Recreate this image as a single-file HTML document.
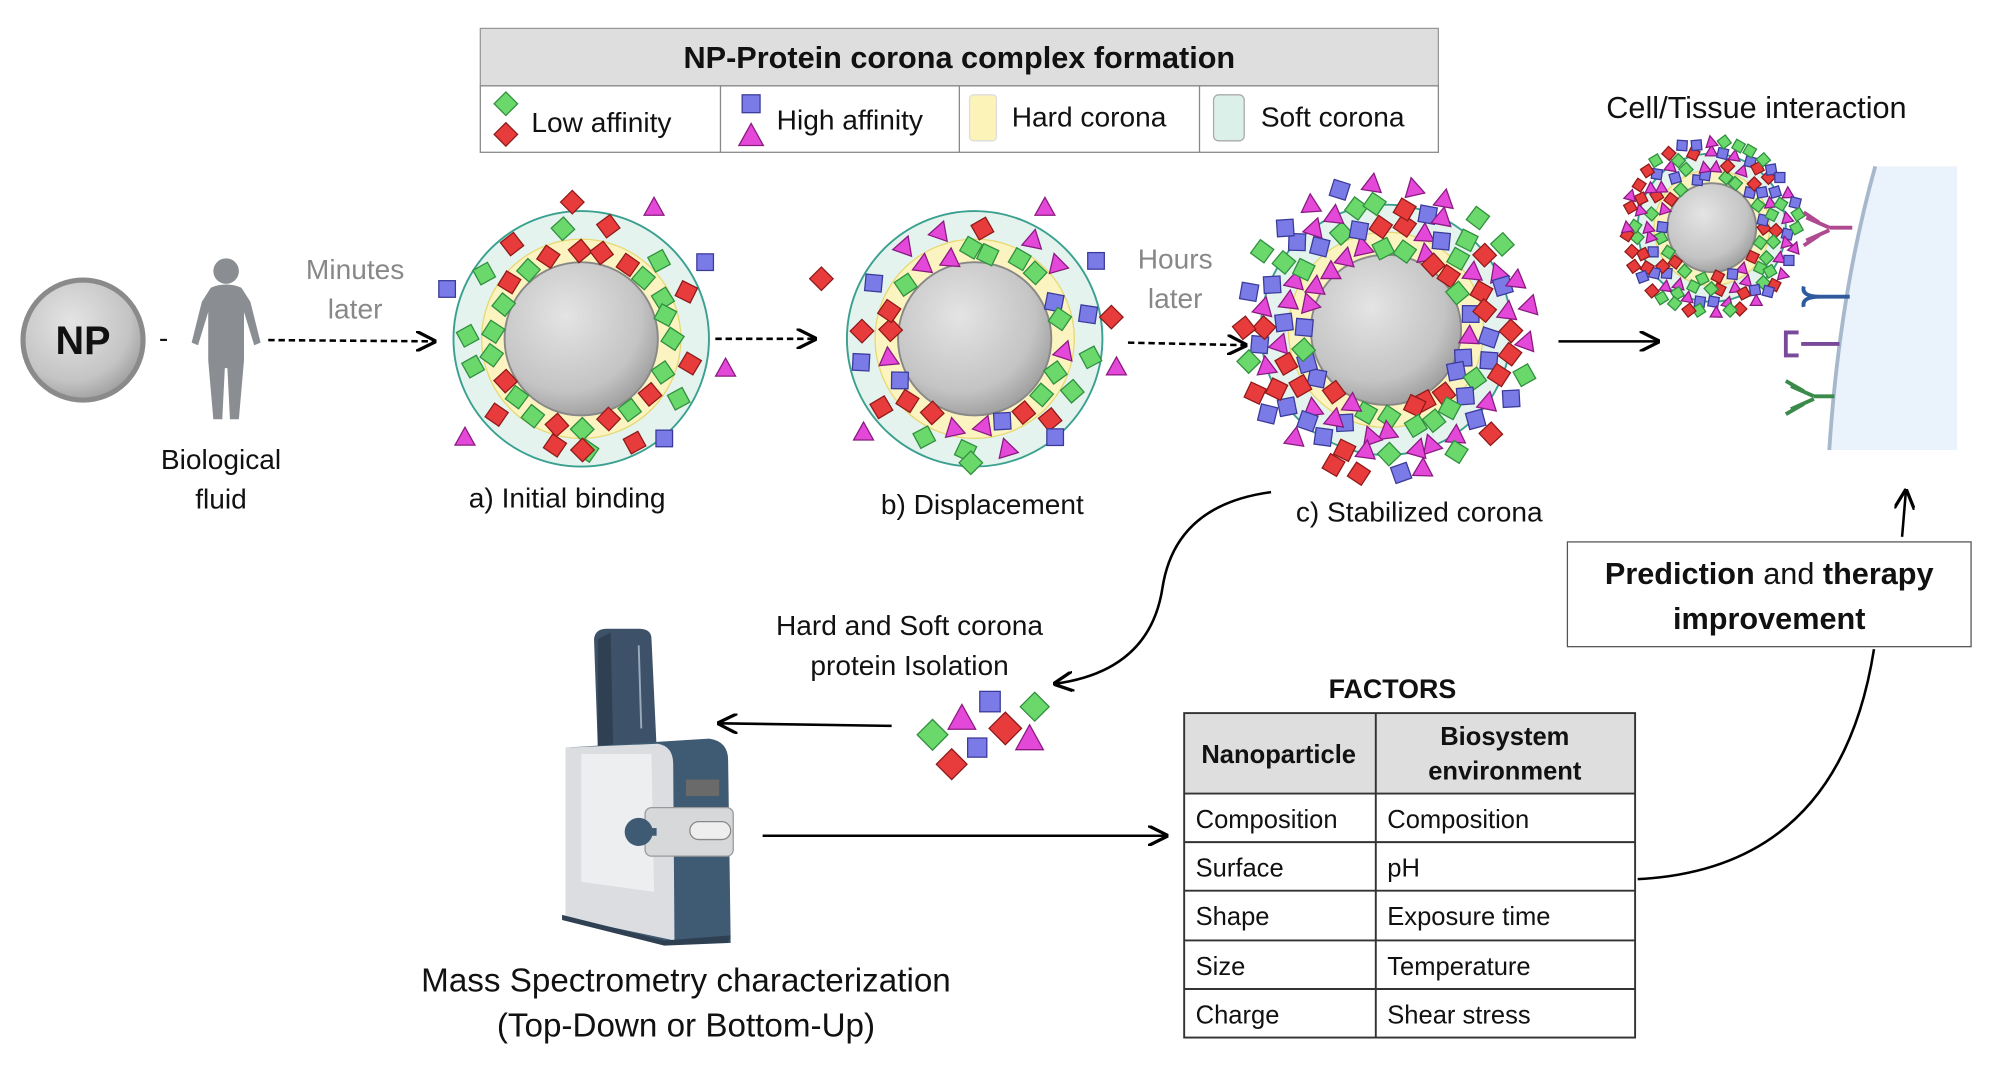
<!DOCTYPE html>
<html><head><meta charset="utf-8"><style>
html,body{margin:0;padding:0;background:#fff}
svg{display:block}
text{font-family:"Liberation Sans",sans-serif;fill:#111}
</style></head><body>
<svg id="s" width="2003" height="1080" viewBox="0 0 1568 845" xmlns="http://www.w3.org/2000/svg">
<defs>
<marker id="ah" viewBox="0 0 10 10" refX="9" refY="5" markerWidth="8" markerHeight="8" orient="auto-start-reverse"><path d="M0,0 L10,5 L0,10" fill="none" stroke="#000" stroke-width="1.6"/></marker>
<radialGradient id="core" cx="0.4" cy="0.35" r="0.7"><stop offset="0" stop-color="#e4e4e4"/><stop offset="0.7" stop-color="#c4c4c4"/><stop offset="1" stop-color="#9a9a9a"/></radialGradient>
</defs>
<rect x="376" y="22" width="750" height="45" fill="#dedede" stroke="#999"/>
<text x="751" y="53" font-size="24" font-weight="bold" text-anchor="middle">NP-Protein corona complex formation</text>
<rect x="376" y="67" width="750" height="52" fill="#fff" stroke="#888"/>
<line x1="564" y1="67" x2="564" y2="119" stroke="#888"/><line x1="751" y1="67" x2="751" y2="119" stroke="#888"/><line x1="939" y1="67" x2="939" y2="119" stroke="#888"/>
<g id="leg"></g>
<text x="416" y="103" font-size="22">Low affinity</text>
<text x="608" y="101" font-size="22">High affinity</text>
<rect x="759" y="74" width="21" height="36" rx="3" fill="#fbf3b8" stroke="#ddd"/>
<text x="792" y="99" font-size="22">Hard corona</text>
<rect x="950" y="74" width="24" height="36" rx="4" fill="#dcf0ea" stroke="#aaa"/>
<text x="987" y="99" font-size="22">Soft corona</text>

<circle cx="65" cy="266" r="47" fill="url(#core)" stroke="#8a8a8a" stroke-width="4"/>
<text x="65" y="277" font-size="31" font-weight="bold" text-anchor="middle">NP</text>
<text x="128" y="272" font-size="22" text-anchor="middle">-</text>
<g fill="#8a8e92">
<circle cx="177" cy="212" r="10"/>
<path d="M165,225 Q177,220 189,225 L196,236 L204,268 L199,270 L191,244 L191,282 L187,328 L180,328 L178,288 L176,288 L174,328 L167,328 L163,282 L163,244 L155,270 L150,268 L158,236 Z"/>
</g>
<text x="173" y="367" font-size="22" text-anchor="middle">Biological</text>
<text x="173" y="398" font-size="22" text-anchor="middle">fluid</text>
<text x="278" y="218" font-size="22" text-anchor="middle" style="fill:#888">Minutes</text>
<text x="278" y="249" font-size="22" text-anchor="middle" style="fill:#888">later</text>
<line x1="210" y1="266" x2="340" y2="267" stroke="#000" stroke-width="2" stroke-dasharray="5,3" marker-end="url(#ah)"/>
<line x1="560" y1="265" x2="638" y2="265" stroke="#000" stroke-width="2" stroke-dasharray="5,3" marker-end="url(#ah)"/>
<line x1="883" y1="268" x2="975" y2="270" stroke="#000" stroke-width="2" stroke-dasharray="5,3" marker-end="url(#ah)"/>
<text x="920" y="210" font-size="22" text-anchor="middle" style="fill:#888">Hours</text>
<text x="920" y="241" font-size="22" text-anchor="middle" style="fill:#888">later</text>
<line x1="1220" y1="267" x2="1298" y2="267" stroke="#000" stroke-width="2" marker-end="url(#ah)"/>

<g id="cor"></g>
<text x="444" y="397" font-size="22" text-anchor="middle">a) Initial binding</text>
<text x="769" y="402" font-size="22" text-anchor="middle">b) Displacement</text>
<text x="1111" y="408" font-size="22" text-anchor="middle">c) Stabilized corona</text>

<text x="1375" y="92" font-size="24" text-anchor="middle">Cell/Tissue interaction</text>
<path d="M1468,130 L1532,130 L1532,352 L1432,352 Q1440,230 1468,130 Z" fill="#eaf2fb"/>
<path d="M1468,130 Q1440,230 1432,352" fill="none" stroke="#a8b8cc" stroke-width="3"/>
<g stroke-width="3" fill="none">
<path d="M1450,178 L1432,178 M1432,178 L1414,170 M1432,180 L1414,188 M1424,174 L1412,166 M1424,184 L1412,192" stroke="#b04a90"/>
<path d="M1448,232 L1425,232 M1425,232 Q1410,232 1412,224 M1425,232 Q1410,232 1412,240" stroke="#2f5b9e"/>
<path d="M1440,269 L1410,269 M1408,260 L1398,260 L1398,278 L1408,278" stroke="#7a4a9a"/>
<path d="M1436,310 L1420,310 M1420,310 L1402,302 M1420,312 L1402,320 M1412,306 L1398,298 M1412,316 L1398,324" stroke="#3a8a4a"/>
</g>

<rect x="1227" y="424" width="316" height="82" fill="#fff" stroke="#555"/>
<text x="1385" y="457" font-size="24" text-anchor="middle"><tspan font-weight="bold">Prediction</tspan> and <tspan font-weight="bold">therapy</tspan></text>
<text x="1385" y="492" font-size="24" font-weight="bold" text-anchor="middle">improvement</text>
<line x1="1489" y1="420" x2="1492" y2="384" stroke="#000" stroke-width="2" marker-end="url(#ah)"/>
<path d="M1282,688 Q1440,680 1467,508" fill="none" stroke="#000" stroke-width="2"/>
<path d="M995,385 Q920,395 910,460 Q900,525 826,535" fill="none" stroke="#000" stroke-width="2" marker-end="url(#ah)"/>
<text x="712" y="497" font-size="22" text-anchor="middle">Hard and Soft corona</text>
<text x="712" y="528" font-size="22" text-anchor="middle">protein Isolation</text>
<g id="loose"></g>
<line x1="698" y1="568" x2="563" y2="566" stroke="#000" stroke-width="2" marker-end="url(#ah)"/>

<path d="M465,500 Q466,492 475,492 L500,492 Q510,492 510,500 L514,585 L468,585 Z" fill="#3d5268"/>
<path d="M468,500 L478,495 L480,585 L468,585 Z" fill="#2e4052"/>
<line x1="500" y1="505" x2="502" y2="570" stroke="#9ab" stroke-width="1.5"/>
<path d="M443,585 L555,578 Q570,580 570,595 L572,738 L518,738 L443,720 Z" fill="#3f5a73"/>
<path d="M443,585 L515,582 Q527,584 527,598 L528,736 L443,718 Z" fill="#dcdde0"/>
<path d="M455,590 L510,590 L512,698 L455,690 Z" fill="#eceef0"/>
<rect x="537" y="610" width="26" height="13" fill="#6a6a6a"/>
<rect x="505" y="632" width="69" height="38" rx="5" fill="#d7d8da" stroke="#999"/>
<rect x="540" y="643" width="32" height="14" rx="7" fill="#eee" stroke="#888"/>
<circle cx="500" cy="651" r="11" fill="#3f5a73"/>
<rect x="498" y="648" width="16" height="6" fill="#3f5a73"/>
<path d="M440,720 L520,740 L570,738 L572,732 L520,736 L440,716 Z" fill="#2e4052"/>
<text x="537" y="776" font-size="26" text-anchor="middle">Mass Spectrometry characterization</text>
<text x="537" y="811" font-size="26" text-anchor="middle">(Top-Down or Bottom-Up)</text>
<line x1="597" y1="654" x2="913" y2="654" stroke="#000" stroke-width="2" marker-end="url(#ah)"/>

<text x="1090" y="546" font-size="21" font-weight="bold" text-anchor="middle">FACTORS</text>
<rect x="927" y="558" width="353" height="63" fill="#dedede"/>
<g stroke="#333" stroke-width="1.5" fill="none">
<rect x="927" y="558" width="353" height="254"/>
<line x1="1077" y1="558" x2="1077" y2="812"/>
<line x1="927" y1="621" x2="1280" y2="621"/><line x1="927" y1="659" x2="1280" y2="659"/><line x1="927" y1="697" x2="1280" y2="697"/><line x1="927" y1="736" x2="1280" y2="736"/><line x1="927" y1="774" x2="1280" y2="774"/>
</g>
<g font-size="20">
<text x="1001" y="597" font-weight="bold" text-anchor="middle">Nanoparticle</text>
<text x="1178" y="583" font-weight="bold" text-anchor="middle">Biosystem</text>
<text x="1178" y="610" font-weight="bold" text-anchor="middle">environment</text>
<text x="936" y="648">Composition</text><text x="1086" y="648">Composition</text>
<text x="936" y="686">Surface</text><text x="1086" y="686">pH</text>
<text x="936" y="724">Shape</text><text x="1086" y="724">Exposure time</text>
<text x="936" y="763">Size</text><text x="1086" y="763">Temperature</text>
<text x="936" y="801">Charge</text><text x="1086" y="801">Shear stress</text>
</g>
</svg>
<script>
var NS="http://www.w3.org/2000/svg";
var C={g:["#6ad86a","#2f8f3f"],r:["#e83c3c","#8f1a1a"],b:["#7b7be8","#3a3a9a"],m:["#e448d8","#8a1a80"]};
var seed=7;function rnd(){seed=(seed*16807)%2147483647;return seed/2147483647;}
function sh(p,t,x,y,s,rot){var e;
 if(t=="g"||t=="r"){e=document.createElementNS(NS,"rect");e.setAttribute("x",x-s/2);e.setAttribute("y",y-s/2);e.setAttribute("width",s);e.setAttribute("height",s);e.setAttribute("transform","rotate("+(45+rot)+" "+x+" "+y+")");}
 else if(t=="b"){e=document.createElementNS(NS,"rect");e.setAttribute("x",x-s/2);e.setAttribute("y",y-s/2);e.setAttribute("width",s);e.setAttribute("height",s);e.setAttribute("transform","rotate("+rot+" "+x+" "+y+")");}
 else {e=document.createElementNS(NS,"polygon");var h=s*0.6;e.setAttribute("points",(x)+","+(y-h)+" "+(x+h)+","+(y+h*0.8)+" "+(x-h)+","+(y+h*0.8));e.setAttribute("transform","rotate("+rot+" "+x+" "+y+")");}
 e.setAttribute("fill",C[t][0]);e.setAttribute("stroke",C[t][1]);e.setAttribute("stroke-width",1);p.appendChild(e);}
var leg=document.getElementById("leg");
sh(leg,"g",396,81,13,0);sh(leg,"r",396,105,13,0);sh(leg,"b",588,81,14,0);sh(leg,"m",588,106,16,0);
var cor=document.getElementById("cor");
function corona(cx,cy,R,kinds,rings,outer,scale){
 var c=function(r,f,st,w){var e=document.createElementNS(NS,"circle");e.setAttribute("cx",cx);e.setAttribute("cy",cy);e.setAttribute("r",r);e.setAttribute("fill",f);if(st){e.setAttribute("stroke",st);e.setAttribute("stroke-width",w);}cor.appendChild(e);};
 c(R,"#e4f3ee","#3aa090",1.5);c(R*0.78,"#fbf3c0","#e8d870",1);c(R*0.6,"url(#core)","#888",1.5);
 rings.forEach(function(rg){var n=rg[1];for(var i=0;i<n;i++){var a=(i+rnd()*0.5)*6.283/n,rr=R*(rg[0]+rnd()*0.06);
   sh(cor,kinds[Math.floor(rnd()*kinds.length)],cx+Math.cos(a)*rr,cy+Math.sin(a)*rr,13*scale,rnd()*40-20);}});
}
corona(455,265,100,["g","r"],[[0.66,22],[0.86,14]],0,1);
[[350,226,"b"],[448,158,"r"],[512,162,"m"],[552,205,"b"],[568,288,"m"],[520,343,"b"],[456,352,"r"],[364,342,"m"]].forEach(function(q){sh(cor,q[2],q[0],q[1],13,0);});
corona(763,265,100,["g","r","b","m"],[[0.66,22],[0.86,16]],0,1);
[[643,218,"r"],[818,162,"m"],[858,204,"b"],[870,248,"r"],[874,287,"m"],[826,342,"b"],[760,362,"g"],[676,338,"m"]].forEach(function(q){sh(cor,q[2],q[0],q[1],13,0);});
corona(1085,258,98,["g","r","b","m"],[[0.64,26],[0.8,30],[0.96,34],[1.12,26]],0,1);
corona(1340,178,58,["g","r","b","m"],[[0.66,22],[0.82,28],[0.98,34],[1.12,38]],0,0.6);
var lo=document.getElementById("loose");
[[730,575,"g",17],[753,562,"m",18],[775,549,"b",16],[810,553,"g",16],[787,570,"r",18],[765,585,"b",15],[806,578,"m",18],[745,598,"r",17]].forEach(function(q){sh(lo,q[2],q[0],q[1],q[3],0);});
</script>
</body></html>
